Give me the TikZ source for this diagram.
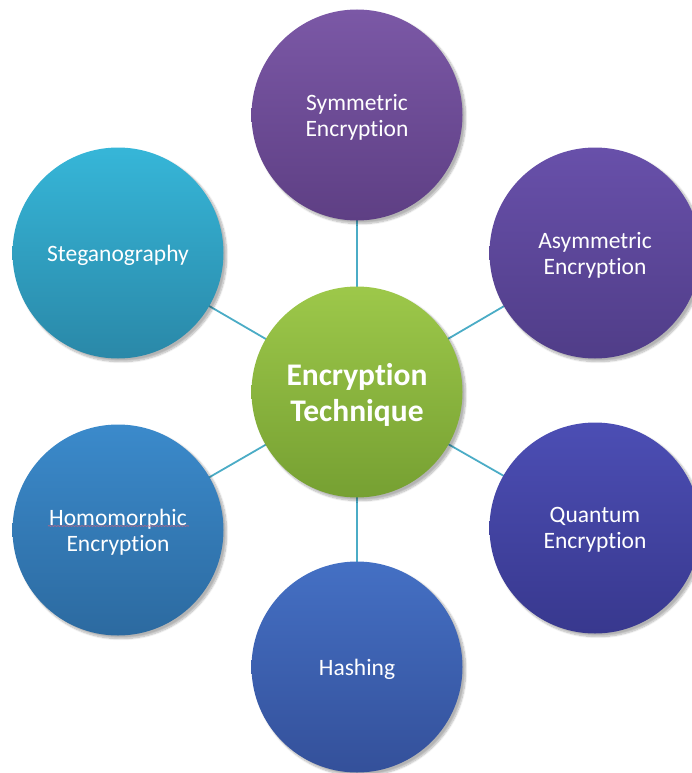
\documentclass[tikz,border=0pt]{standalone}
\usepackage{fontspec}
\setmainfont[Ligatures={NoCommon,NoContextual}]{Carlito}
\usetikzlibrary{shadows.blur,decorations.pathmorphing}

\definecolor{linkcol}{HTML}{4BACC6}

\tikzset{
  bubble/.style={circle, minimum size=211pt, inner sep=0pt, draw=none,
    shading=axis, shading angle=0, text=white, align=center, text depth=0pt,
    font=\fontsize{23.5}{26}\selectfont,
    blur shadow={shadow xshift=3pt, shadow yshift=-3pt, shadow blur steps=8,
      shadow blur extra rounding=2pt, shadow opacity=30}},
  hub/.style={bubble, font=\bfseries\fontsize{31.5}{36}\selectfont},
  link/.style={draw=linkcol, line width=1.8pt}
}

\begin{document}
\begin{tikzpicture}[x=1pt,y=-1pt]
  \useasboundingbox (0,0) rectangle (692,773);

  % hub and spokes
  \coordinate (c) at (357,392);
  \coordinate (pt) at (357,115);
  \coordinate (pur) at (595,253);
  \coordinate (plr) at (595,528);
  \coordinate (pb) at (357,667);
  \coordinate (pll) at (118,530);
  \coordinate (pul) at (118,253);

  \draw[link] (c) -- (pt);
  \draw[link] (c) -- (pur);
  \draw[link] (c) -- (plr);
  \draw[link] (c) -- (pb);
  \draw[link] (c) -- (pll);
  \draw[link] (c) -- (pul);

  % outer bubbles
  \node[bubble, top color={rgb,255:red,123;green,88;blue,166}, bottom color={rgb,255:red,94;green,63;blue,132}]
    (sym) at (pt) {Symmetric\\Encryption};
  \node[bubble, top color={rgb,255:red,104;green,80;blue,170}, bottom color={rgb,255:red,80;green,61;blue,136}]
    (asym) at (pur) {Asymmetric\\Encryption};
  \node[bubble, top color={rgb,255:red,76;green,78;blue,180}, bottom color={rgb,255:red,56;green,56;blue,142}]
    (quant) at (plr) {Quantum\\Encryption};
  \node[bubble, top color={rgb,255:red,68;green,112;blue,196}, bottom color={rgb,255:red,52;green,80;blue,154}]
    (hash) at (pb) {Hashing};
  \node[bubble, top color={rgb,255:red,59;green,138;blue,203}, bottom color={rgb,255:red,44;green,106;blue,160}]
    (homo) at (pll) {Homomorphic\\Encryption};
  \node[bubble, top color={rgb,255:red,54;green,182;blue,216}, bottom color={rgb,255:red,42;green,136;blue,168}]
    (steg) at (pul) {Steganography};

  % centre bubble
  \node[hub, top color={rgb,255:red,157;green,200;blue,74}, bottom color={rgb,255:red,118;green,160;blue,50}]
    (core) at (c) {Encryption\\Technique};

  % spell-check squiggle under the first word of the lower-left bubble
  \coordinate (sqa) at (48,526);
  \coordinate (sqb) at (189,526);
  \draw[draw={rgb,255:red,214;green,96;blue,120}, line width=0.6pt,
        decorate, decoration={snake, amplitude=0.35pt, segment length=3pt}] (sqa) -- (sqb);
\end{tikzpicture}
\end{document}
